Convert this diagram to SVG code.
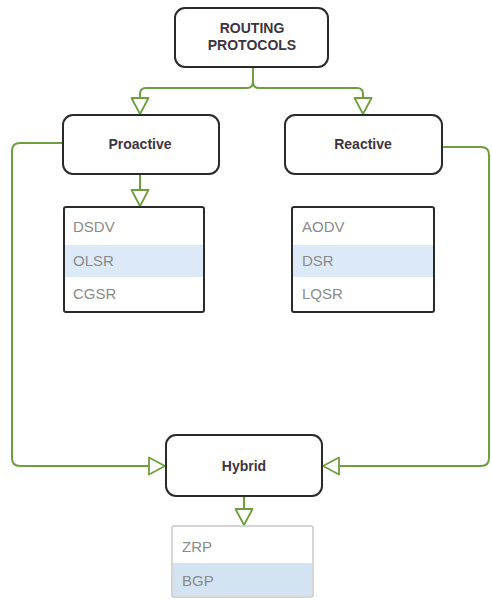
<svg xmlns="http://www.w3.org/2000/svg" width="492" height="601" viewBox="0 0 492 601">
<style>
.node{fill:#fff;stroke:#2a2a2a;stroke-width:2}
.lbl{font-family:"Liberation Sans",Arial,sans-serif;font-size:14px;font-weight:bold;fill:#3d3540;text-anchor:middle}
.list{fill:#fff;stroke:#2a2a2a;stroke-width:2}
.item{font-family:"Liberation Sans",Arial,sans-serif;font-size:15px;fill:#8a8a8a}
.hl{fill:#dbeaf6}
.conn{fill:none;stroke:#6d9f3c;stroke-width:2}
</style>
<defs>
<marker id="tri" markerUnits="userSpaceOnUse" markerWidth="20" markerHeight="20" refX="17" refY="9.5" orient="auto" viewBox="0 0 20 19">
<path d="M1,1 L17,9.5 L1,18 Z" fill="#fff" stroke="#6d9f3c" stroke-width="1.8" stroke-linejoin="round"/>
</marker>
</defs>
<rect width="492" height="601" fill="#fff"/>
<g id="connectors">
<path class="conn" d="M253,67 V82 Q253,88 247,88 H146 Q140,88 140,94 V114" marker-end="url(#tri)"/>
<path class="conn" d="M253,67 V82 Q253,88 259,88 H357 Q363,88 363,94 V114" marker-end="url(#tri)"/>
<path class="conn" d="M140,174 V206" marker-end="url(#tri)"/>
<path class="conn" d="M63,143 H20 Q12,143 12,151 V458 Q12,466 20,466 H165" marker-end="url(#tri)"/>
<path class="conn" d="M442,147 H481 Q489,147 489,155 V458 Q489,466 481,466 H323" marker-end="url(#tri)"/>
<path class="conn" d="M244,496 V525" marker-end="url(#tri)"/>
</g>
<g id="routing">
<rect class="node" x="175" y="8" width="153" height="59" rx="10"/>
<text class="lbl" x="252" y="33">ROUTING</text>
<text class="lbl" x="252" y="50">PROTOCOLS</text>
</g>
<g id="proactive">
<rect class="node" x="63" y="115" width="156" height="59" rx="10"/>
<text class="lbl" x="140" y="149">Proactive</text>
</g>
<g id="reactive">
<rect class="node" x="285" y="115" width="157" height="59" rx="10"/>
<text class="lbl" x="363" y="149">Reactive</text>
</g>
<g id="proactive-list">
<rect class="list" x="64" y="207" width="140" height="105" rx="2"/>
<rect class="hl" x="65" y="245" width="138" height="32"/>
<text class="item" x="73" y="232">DSDV</text>
<text class="item" x="73" y="266">OLSR</text>
<text class="item" x="73" y="299">CGSR</text>
</g>
<g id="reactive-list">
<rect class="list" x="292" y="207" width="142" height="105" rx="2"/>
<rect class="hl" x="293" y="245" width="140" height="32"/>
<text class="item" x="302" y="232">AODV</text>
<text class="item" x="302" y="266">DSR</text>
<text class="item" x="302" y="299">LQSR</text>
</g>
<g id="hybrid">
<rect class="node" x="166" y="435" width="156" height="61" rx="10"/>
<text class="lbl" x="244" y="471">Hybrid</text>
</g>
<g id="hybrid-list">
<rect x="172" y="526" width="141" height="71" rx="2" fill="#fff" stroke="#c8c8c8" stroke-width="1.5"/>
<rect x="173" y="563" width="139" height="33" fill="#d3e3f2"/>
<text class="item" x="182" y="552">ZRP</text>
<text class="item" x="182" y="586">BGP</text>
</g>
</svg>
